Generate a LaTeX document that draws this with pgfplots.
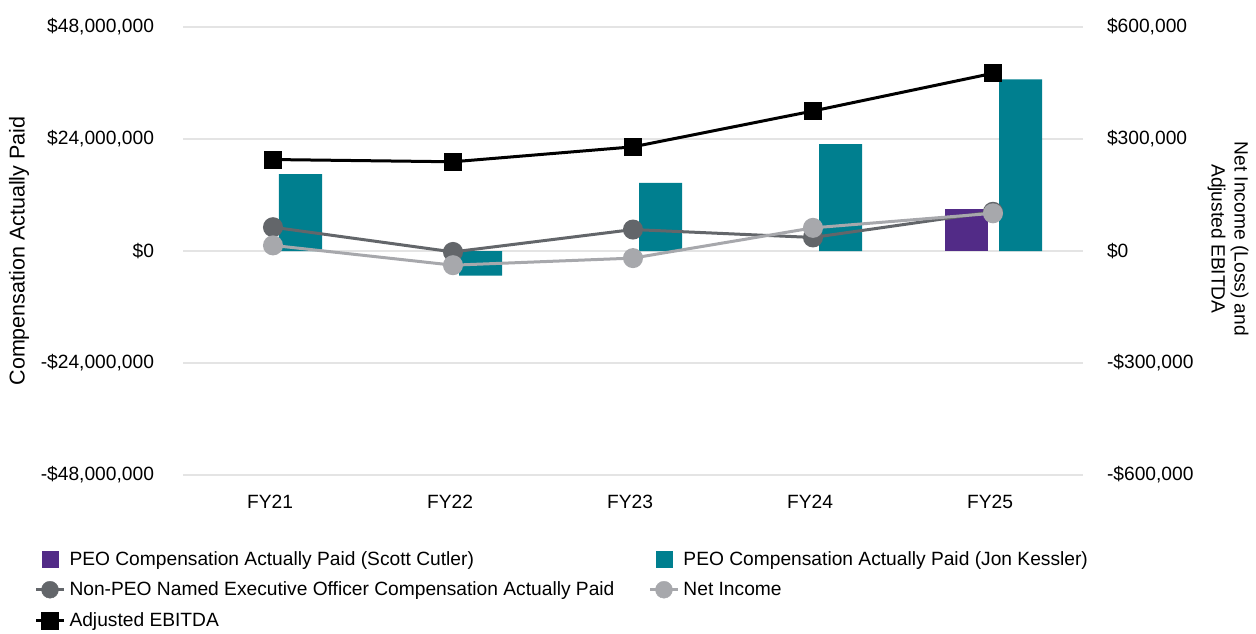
\documentclass[border=0pt]{standalone}
\usepackage{pgfplots}
\pgfplotsset{compat=1.18}
\usepackage{fontspec}
\setmainfont{Liberation Sans}

\definecolor{cutlerC}{RGB}{82,43,135}
\definecolor{kesslerC}{RGB}{0,127,143}
\definecolor{neoC}{RGB}{99,102,106}
\definecolor{incomeC}{RGB}{167,168,172}
\definecolor{gridC}{RGB}{228,228,228}

\newcommand{\chartfont}{\fontsize{19.2}{23}\selectfont}
\newcommand{\labelfont}{\fontsize{21.5}{25}\selectfont}

\begin{document}
\begin{tikzpicture}
\pgfplotsset{
  every axis/.append style={font=\chartfont},
  base/.style={
    at={(183pt,158pt)}, anchor=south west,
    scale only axis, width=900pt, height=448pt,
    xmin=-0.5, xmax=4.5,
    axis line style={draw=none},
    major tick length=0pt,
  },
}
% Left axis: compensation actually paid (millions of dollars)
\begin{axis}[
  base,
  ymin=-48, ymax=48,
  xtick={0,1,2,3,4},
  xticklabels={FY21,FY22,FY23,FY24,FY25},
  xticklabel style={yshift=-17pt, xshift=-3pt},
  ytick={-48,-24,0,24,48},
  yticklabels={{-\$48,000,000},{-\$24,000,000},{\$0},{\$24,000,000},{\$48,000,000}},
  yticklabel style={xshift=-25.5pt},
  ymajorgrids,
  grid style={gridC, line width=2pt},
  ylabel={Compensation Actually Paid},
  ylabel style={at={(axis description cs:-0.1822,0.5)}, anchor=center, font=\labelfont},
]
% PEO CAP, Scott Cutler
\addplot[ybar, bar width=43pt, bar shift=-27pt, fill=cutlerC, draw=none]
  coordinates {(4,9.1)};
% PEO CAP, Jon Kessler
\addplot[ybar, bar width=43pt, bar shift=27.5pt, fill=kesslerC, draw=none]
  coordinates {(0,16.5) (1,-5.3) (2,14.6) (3,22.9) (4,36.8)};
% Non-PEO NEO CAP
\addplot[neoC, line width=3pt, mark=*, mark size=8.5pt, mark options={solid, fill=neoC}]
  coordinates {(0,5.1) (1,-0.2) (2,4.6) (3,2.9) (4,8.4)};
\end{axis}

% Right axis: net income and adjusted EBITDA (thousands of dollars)
\begin{axis}[
  base,
  ymin=-600, ymax=600,
  xtick=\empty,
  ytick={-600,-300,0,300,600},
  yticklabels={{-\$600,000},{-\$300,000},{\$0},{\$300,000},{\$600,000}},
  yticklabel pos=right,
  yticklabel style={xshift=20.5pt},
  ylabel={Net Income (Loss) and\\Adjusted EBITDA},
  ylabel style={at={(axis description cs:1.1611,0.527)}, anchor=center, align=center, rotate=180},
  legend columns=2,
  legend cell align=left,
  legend style={
    at={(axis description cs:-0.165,-0.1654)}, anchor=north west,
    draw=none, fill=none, inner sep=0pt, outer sep=0pt,
    font=\chartfont, row sep=11.5pt,
    /tikz/every odd column/.append style={column sep=2pt},
    /tikz/every even column/.append style={column sep=32pt},
  },
]
\addlegendimage{legend image code/.code={
  \path[draw=none, fill=none] (0pt,-9pt) rectangle (28pt,9pt);
  \fill[cutlerC] (6pt,-8pt) rectangle (22pt,8pt);}}
\addlegendentry{PEO Compensation Actually Paid (Scott Cutler)}
\addlegendimage{legend image code/.code={
  \path[draw=none, fill=none] (0pt,-9pt) rectangle (28pt,9pt);
  \fill[kesslerC] (6pt,-8pt) rectangle (22pt,8pt);}}
\addlegendentry{PEO Compensation Actually Paid (Jon Kessler)}
\addlegendimage{legend image code/.code={
  \path[draw=none, fill=none] (0pt,-9pt) rectangle (28pt,9pt);
  \draw[neoC, line width=3pt] (0pt,0pt) -- (28pt,0pt);
  \fill[neoC] (14pt,0pt) circle (8.5pt);}}
\addlegendentry{Non-PEO Named Executive Officer Compensation Actually Paid}
\addlegendimage{legend image code/.code={
  \path[draw=none, fill=none] (0pt,-9pt) rectangle (28pt,9pt);
  \draw[incomeC, line width=3pt] (0pt,0pt) -- (28pt,0pt);
  \fill[incomeC] (14pt,0pt) circle (8.5pt);}}
\addlegendentry{Net Income}
\addlegendimage{legend image code/.code={
  \path[draw=none, fill=none] (0pt,-9pt) rectangle (28pt,9pt);
  \draw[black, line width=3pt] (0pt,0pt) -- (28pt,0pt);
  \fill[black] (5.5pt,-8.5pt) rectangle (22.5pt,8.5pt);}}
\addlegendentry{Adjusted EBITDA}
% Net income
\addplot[incomeC, line width=3pt, mark=*, mark size=8.5pt, mark options={solid, fill=incomeC}, forget plot]
  coordinates {(0,15) (1,-38) (2,-19) (3,62) (4,101)};
% Adjusted EBITDA
\addplot[black, line width=3pt, mark=square*, mark size=7.5pt, mark options={solid, fill=black}, forget plot]
  coordinates {(0,245) (1,239) (2,279) (3,375) (4,476)};
\end{axis}
\pgfresetboundingbox
\path (0pt,0pt) rectangle (1256pt,633pt);
\end{tikzpicture}
\end{document}
